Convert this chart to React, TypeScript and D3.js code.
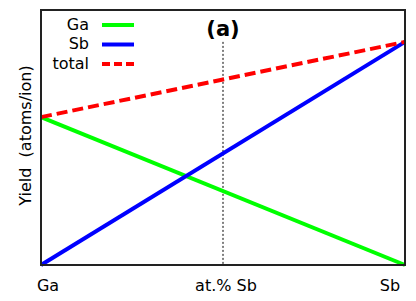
import React from 'react';
import * as d3 from 'd3';

const composition = [0, 1];
const gaYield = [0.58, 0];
const sbYield = [0, 0.875];
const totalYield = [0.58, 0.875];
const xTickLabels = ['Ga', 'at.% Sb', 'Sb'];
const xTickValues = [0, 0.5, 1];
const legendItems = [
  { label: 'Ga', color: '#00ff00', dash: undefined },
  { label: 'Sb', color: '#0000ff', dash: undefined },
  { label: 'total', color: '#ff0000', dash: '8,4' },
];

function App() {
  const margin = { top: 10, right: 11, bottom: 36, left: 41 };
  const width = 416 - margin.left - margin.right;
  const height = 301 - margin.top - margin.bottom;
  const font = 'DejaVu Sans, sans-serif';

  const xScale = d3.scaleLinear().domain([0, 1]).range([0, width]);
  const yScale = d3.scaleLinear().domain([0, 1]).range([height, 0]);

  // labels sit a little off their tick positions in the original
  const labelShift = [7, 3, -15];

  const line = (values: number[]) =>
    d3
      .line<number>()
      .x((_, i) => xScale(composition[i]))
      .y((d) => yScale(d))(values) || '';

  return (
    <svg
      width={416}
      height={301}
      style={{ position: 'absolute', left: 0, top: 0 }}
      fontFamily={font}
    >
      <g transform={`translate(${margin.left} ${margin.top})`}>
        <path
          d={`M ${xScale(0.5)} ${yScale(0.875)} V ${height}`}
          stroke="#000"
          strokeWidth={1}
          strokeDasharray="2,2"
          fill="none"
        />
        <path d={line(gaYield)} stroke="#00ff00" strokeWidth={4} fill="none" />
        <path d={line(sbYield)} stroke="#0000ff" strokeWidth={4} fill="none" />
        <path
          d={line(totalYield)}
          stroke="#ff0000"
          strokeWidth={4}
          strokeDasharray="11,5"
          fill="none"
        />
        <rect
          x={0}
          y={0}
          width={width}
          height={height}
          fill="none"
          stroke="#222"
          strokeWidth={2}
        />
        <text
          x={xScale(0.5)}
          y={26}
          textAnchor="middle"
          fontSize={21}
          fontWeight="bold"
        >
          (a)
        </text>
        {legendItems.map((item, i) => (
          <g key={item.label} transform={`translate(0 ${15 + i * 19.5})`}>
            <text x={48} textAnchor="end" dominantBaseline="middle" fontSize={16}>
              {item.label}
            </text>
            <path
              d="M 61 0 H 93"
              stroke={item.color}
              strokeWidth={4}
              strokeDasharray={item.dash}
            />
          </g>
        ))}
        {xTickValues.map((tick, i) => (
          <text
            key={tick}
            x={xScale(tick) + labelShift[i]}
            y={height + 26}
            textAnchor="middle"
            fontSize={16}
          >
            {xTickLabels[i]}
          </text>
        ))}
        <text
          transform={`translate(-10 ${height / 2 - 2}) rotate(-90)`}
          textAnchor="middle"
          fontSize={16}
          style={{ whiteSpace: 'pre' }}
        >
          {'Yield  (atoms/ion)'}
        </text>
      </g>
    </svg>
  );
}

export default App;
